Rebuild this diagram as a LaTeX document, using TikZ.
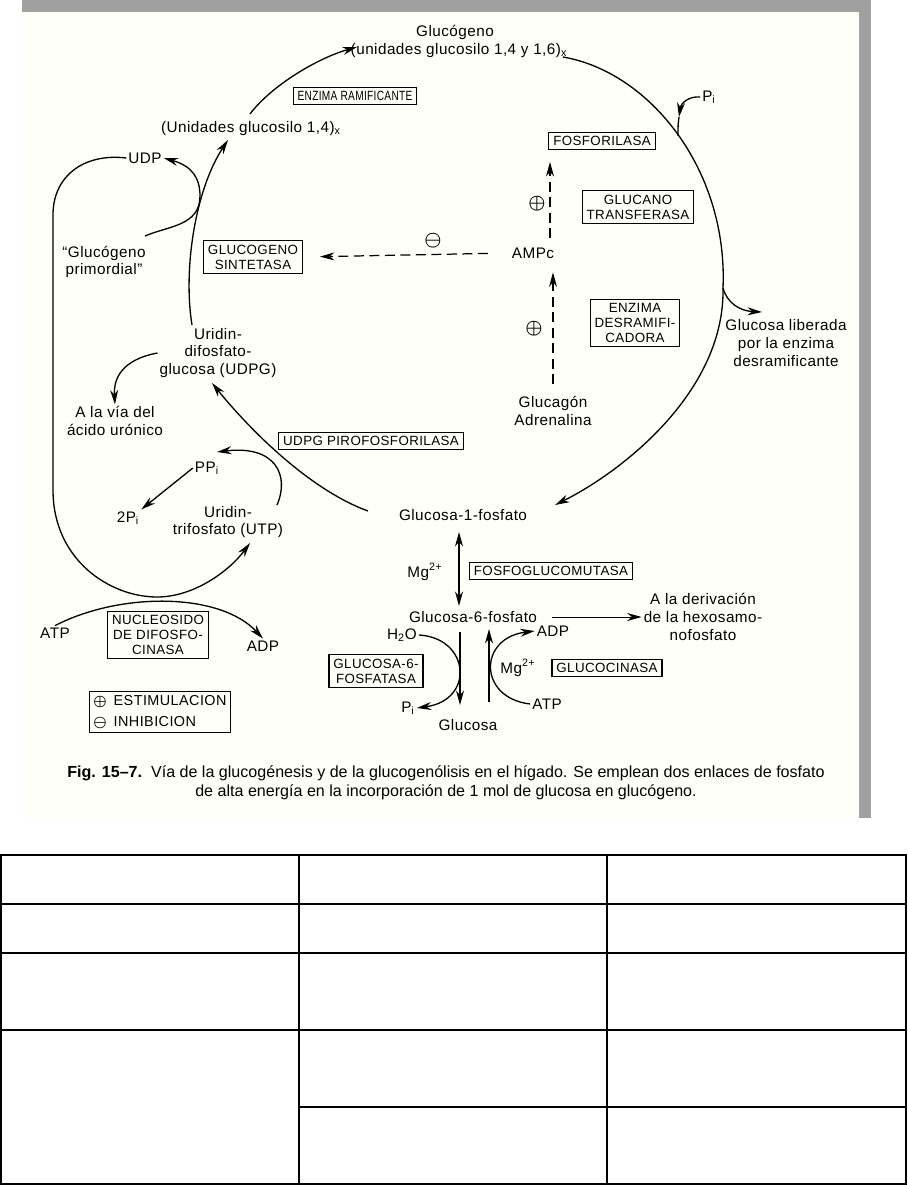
\documentclass[tikz,border=0pt]{standalone}
\usepackage{fontspec}
\setmainfont{Liberation Sans}
\newfontfamily\figfont{Liberation Sans}[LetterSpace=3]
\usetikzlibrary{arrows.meta}
\definecolor{cMarco}{RGB}{160,160,160}
\definecolor{cPapel}{RGB}{255,255,249}
\tikzset{
	texto/.style  ={align=center, inner sep=1pt, font=\figfont\fontsize{8.7}{10}\selectfont},
	signo/.style  ={inner sep=0pt, font=\fontsize{11}{11}\selectfont\boldmath},
	enzima/.style ={rectangle, draw=black, line width=0.6pt, align=center, inner xsep=2.5pt, inner ysep=2.2pt, font=\figfont\fontsize{7.6}{8.5}\selectfont},
	flecha/.style ={-{Stealth[length=2.9mm, width=1.6mm]}, line width=0.75pt},
	doble/.style  ={{Stealth[length=2.9mm, width=1.6mm]}-{Stealth[length=2.9mm, width=1.6mm]}, line width=0.75pt},
	regula/.style ={-{Stealth[length=2.9mm, width=1.6mm]}, line width=0.7pt, dash pattern=on 2mm off 1.1mm},
	% tabla vacia de abajo
	celda/.style  ={line width=1.1pt},
}

\begin{document}
\begin{tikzpicture}[x=0.02cm, y=-0.02cm]
\useasboundingbox (0,0) rectangle (907,1185);
\fill[cPapel] (22,12) rectangle (859,818);
\fill[cMarco] (22,0) rectangle (871,12);
\fill[cMarco] (859,0) rectangle (871,818);

\node[texto] (glucogeno) at (455,32) {Glucógeno};
\node[texto] (unid16) at (459,51) {(unidades glucosilo 1,4 y 1,6)\textsubscript{x}};
\node[enzima] (ramif) at (355,96) {\scalebox{0.76}[1]{ENZIMA RAMIFICANTE}};
\node[texto] (unid14) at (251,129) {(Unidades glucosilo 1,4)\textsubscript{x}};
\node[texto] (udp) at (145,158) {UDP};
\node[texto] (primord) at (104,262) {“Glucógeno\\primordial”};
\node[enzima] (sintet) at (253,257) {GLUCOGENO\\SINTETASA};
\node[signo] (inhib) at (433,241) {$\ominus$};
\node[texto] (ampc) at (533,253) {AMPc};
\node[enzima] (fosfor) at (602,141) {FOSFORILASA};
\node[signo] (estim1) at (537,204) {$\oplus$};
\node[enzima] (glucano) at (638,207) {GLUCANO\\TRANSFERASA};
\node[signo] (estim2) at (534,329) {$\oplus$};
\node[enzima] (desram) at (635,323) {ENZIMA\\DESRAMIFI-\\CADORA};
\node[texto] (hormona) at (553,411) {Glucagón\\Adrenalina};
\node[texto] (pi1) at (709,97) {P\textsubscript{i}};
\node[texto] (liberada) at (786,343) {Glucosa liberada\\por la enzima\\desramificante};
\node[texto] (udpg) at (218,353) {Uridin-\\difosfato-\\glucosa (UDPG)};
\node[texto] (uronico) at (115,421) {A la vía del\\ácido urónico};
\node[enzima] (pirofos) at (371,441) {UDPG PIROFOSFORILASA};
\node[texto] (ppi) at (207,468) {PP\textsubscript{i}};
\node[texto] (dospi) at (128,518) {2P\textsubscript{i}};
\node[texto] (utp) at (228,522) {Uridin-\\trifosfato (UTP)};
\node[texto] (g1p) at (463,515) {Glucosa-1-fosfato};
\node[texto] (atp1) at (55,633) {ATP};
\node[enzima] (nucleo) at (158,635) {NUCLEOSIDO\\DE DIFOSFO-\\CINASA};
\node[texto] (adp1) at (263,646) {ADP};
\node[enzima, align=left, inner xsep=2pt, font=\figfont\fontsize{8.2}{11.6}\selectfont] (leyenda) at (160,712) {{\boldmath$\oplus$}\, ESTIMULACION\\{\boldmath$\ominus$}\, INHIBICION};
\node[texto] (mg1) at (425,572) {Mg\textsuperscript{2+}};
\node[enzima] (mutasa) at (551,571) {FOSFOGLUCOMUTASA};
\node[texto] (g6p) at (473,617) {Glucosa-6-fosfato};
\node[texto] (hexos) at (703,617) {A la derivación\\de la hexosamo-\\nofosfato};
\node[texto] (agua) at (402,635) {H\textsubscript{2}O};
\node[enzima] (fosfatasa) at (376,671) {GLUCOSA-6-\\FOSFATASA};
\node[texto] (pi2) at (408,708) {P\textsubscript{i}};
\node[texto] (glucosa) at (468,725) {Glucosa};
\node[texto] (adp2) at (553,631) {ADP};
\node[texto] (mg2) at (518,668) {Mg\textsuperscript{2+}};
\node[enzima] (cinasa) at (607,668) {GLUCOCINASA};
\node[texto] (atp2) at (547,704) {ATP};

\node[font=\fontsize{9.15}{10.5}\selectfont] (pie1) at (446,773) {\textbf{Fig. 15--7.}\ \ Vía de la glucogénesis y de la glucogenólisis en el hígado. Se emplean dos enlaces de fosfato};
\node[font=\fontsize{9.15}{10.5}\selectfont] (pie2) at (446,792) {de alta energía en la incorporación de 1 mol de glucosa en glucógeno.};

\coordinate (pUDPG) at (192,325);
\coordinate (pU14) at (228,140);
\coordinate (pU14b) at (250,114);
\coordinate (pGlu) at (357,47);
\coordinate (pGlub) at (563,57);
\coordinate (pDer) at (723,288);
\coordinate (pG1P) at (555,505);
\coordinate (pG1Pb) at (368,511);
\coordinate (pUDPGb) at (212,383);
\coordinate (pPrim) at (145,236);
\coordinate (pUTP) at (250,543);
\coordinate (pUTPb) at (277,505);
\coordinate (pPP) at (217,452);
\coordinate (pLib) at (762,312);
\coordinate (pPiIn) at (679,117);
\coordinate (pPiJoin) at (678,136);
\coordinate (pAmpUp) at (550,238);
\coordinate (pFosf) at (550,162);
\coordinate (pMut1) at (459,532);
\coordinate (pMut2) at (459,606);
\coordinate (pBaja1) at (460,632);
\coordinate (pBaja2) at (460,705);
\coordinate (pSube1) at (489,702);
\coordinate (pSube2) at (489,629);

\draw[flecha] (pUDPG) .. controls (183,270) and (195,190) .. (pU14);
\draw[flecha] (pU14b) .. controls (272,85) and (318,58) .. (pGlu);
\draw[line width=0.75pt] (pGlub) .. controls (650,72) and (728,170) .. (pDer);
\draw[flecha] (pDer) .. controls (725,390) and (625,470) .. (pG1P);
\draw[flecha] (pG1Pb) .. controls (310,490) and (250,430) .. (pUDPGb);
\draw[flecha] (pPrim) .. controls (168,226) and (200,226) .. (200,196) .. controls (200,178) and (192,166) .. (udp.east);
\draw[flecha] (udp.west) .. controls (85,153) and (53,175) .. (53,215) -- (53,490) .. controls (53,560) and (110,597) .. (157,597) .. controls (195,597) and (230,570) .. (pUTP);
\draw[flecha] (atp1.north) .. controls (120,592) and (220,592) .. (adp1.north);
\draw[flecha] (pUTPb) .. controls (290,475) and (275,445) .. (pPP);
\draw[flecha] (ppi.west) -- (dospi.north east);
\draw[flecha] (udpg.west) .. controls (130,358) and (113,372) .. (uronico.north);
\draw[flecha] (pDer) .. controls (727,303) and (740,311) .. (pLib);
\draw[flecha] (pi1.west) .. controls (689,96) and (681,103) .. (pPiIn);
\draw[line width=0.75pt] (pPiIn) .. controls (678,125) .. (pPiJoin);
\draw[regula, shorten <=0.44cm, shorten >=0.34cm] (ampc.west) -- (sintet.east);
\draw[regula] (pAmpUp) -- (pFosf);
\draw[regula, shorten <=0.2cm, shorten >=0.24cm] (hormona.north) -- (ampc.south -| hormona.north);
\draw[doble] (pMut1) -- (pMut2);
\draw[flecha, line width=0.5pt, shorten <=0.25cm] (g6p.east) -- (hexos.west);
\draw[flecha] (agua.east) .. controls (470,638) and (475,700) .. (pi2.east);
\draw[flecha] (pBaja1) -- (pBaja2);
\draw[flecha] (pSube1) -- (pSube2);
\draw[flecha] (atp2.west) .. controls (478,698) and (478,638) .. (adp2.west);

\draw[celda] (1,855) rectangle (906,1184);
\foreach \y in {904,953,1030} \draw[celda] (1,\y) -- (906,\y);
\draw[celda] (299,1107) -- (906,1107);
\draw[celda] (299,855) -- (299,1184);
\draw[celda] (607,855) -- (607,1184);
\end{tikzpicture}
\end{document}
